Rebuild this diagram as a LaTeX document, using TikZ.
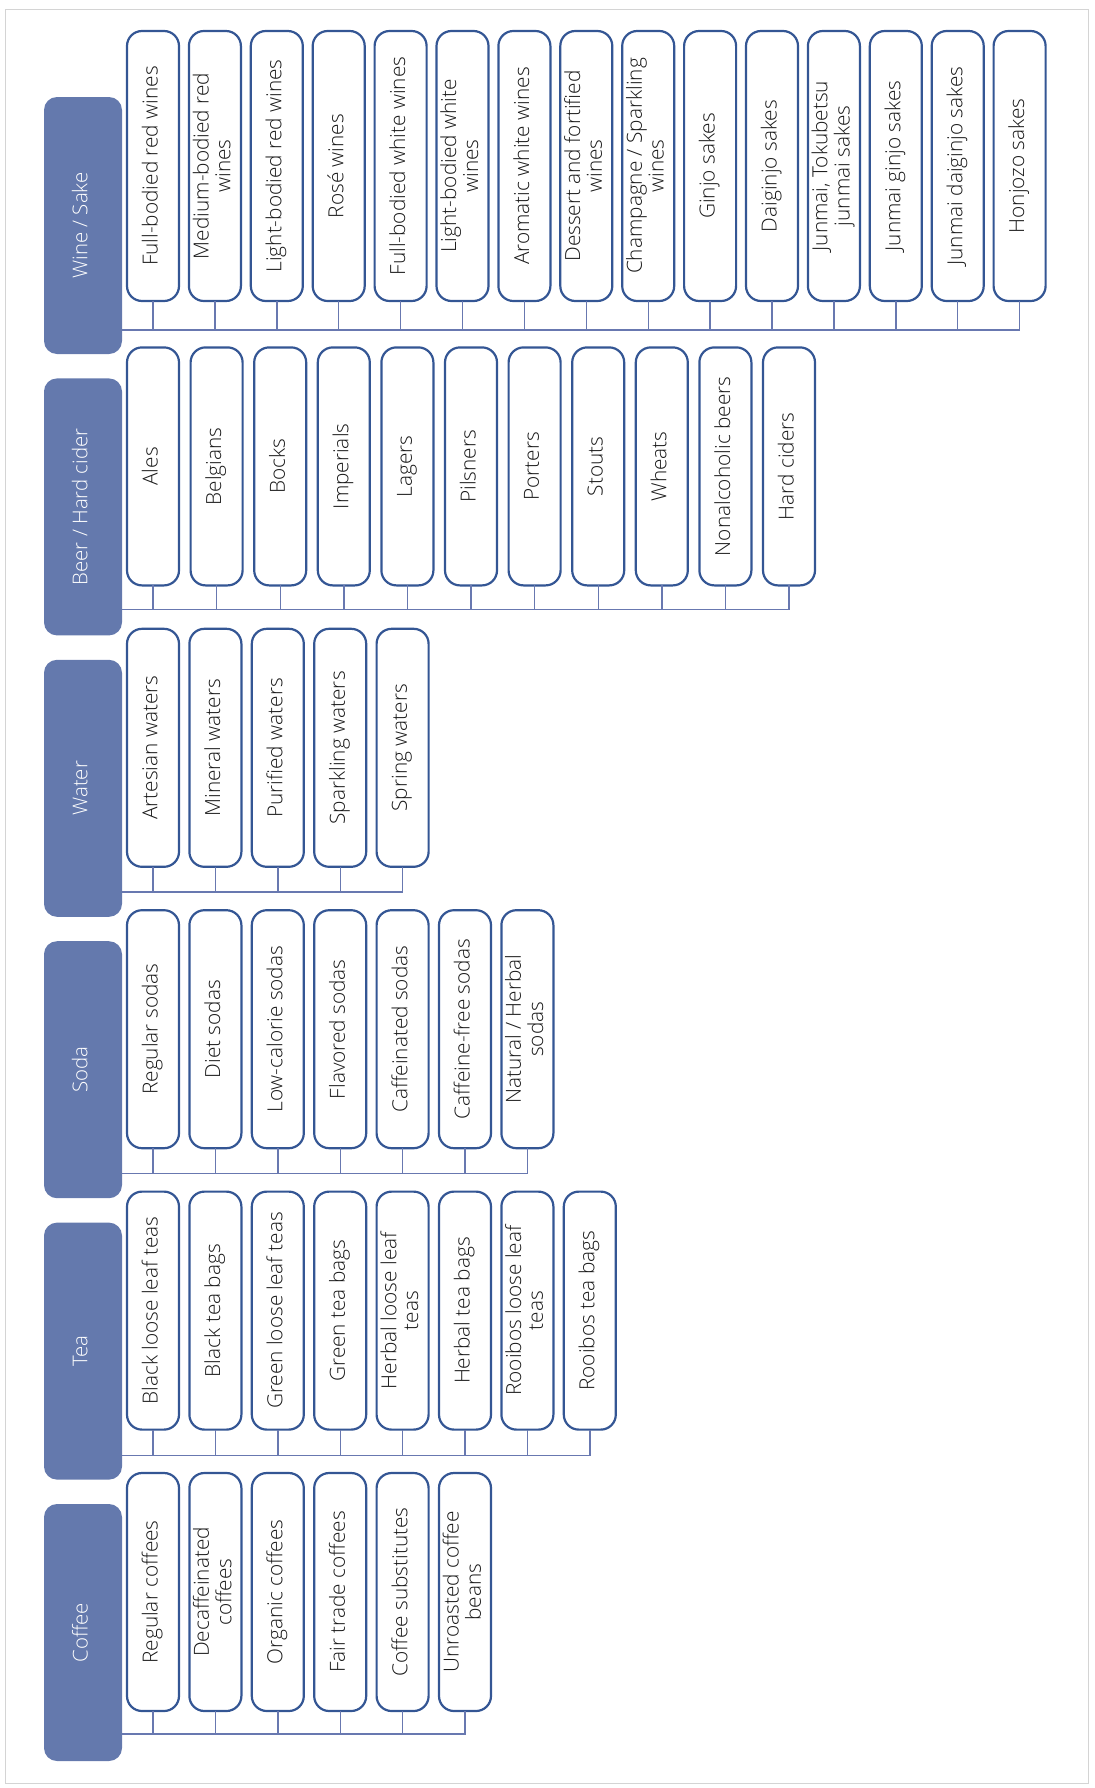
\documentclass[tikz,border=0pt]{standalone}
\usepackage{fontspec}
\setmainfont{Open Sans}[UprightFont={* Light}]
\usepackage{graphicx}
\usepackage{tikz}
\usetikzlibrary{positioning}
\definecolor{headfill}{RGB}{100,121,173}
\definecolor{boxline}{RGB}{52,86,148}
\definecolor{busblue}{RGB}{104,120,176}
\definecolor{framegray}{RGB}{212,212,212}
\newcommand{\vlabel}[1]{\rotatebox{90}{\begin{tabular}{@{}c@{}}#1\end{tabular}}}

\begin{document}
\begin{tikzpicture}[x=1pt,y=1pt,node distance=5.2pt,
groupbox/.style={fill=headfill,text=white,rounded corners=6.5pt,minimum width=39pt,minimum height=128.5pt,inner sep=0pt,outer sep=0pt,font=\fontsize{10.2}{11}\selectfont},
itembox/.style={draw=boxline,line width=1.1pt,rounded corners=7.5pt,fill=white,minimum width=26pt,minimum height=119pt,inner sep=0pt,outer sep=0pt,text=black!90,font=\fontsize{10.4}{10.9}\selectfont},
winebox/.style={itembox,minimum height=135pt},
busline/.style={draw=busblue,line width=0.7pt}]
\useasboundingbox (0,0) rectangle (547.5,-894);
\draw[framegray,line width=0.5pt] (2.5,-4.5) rectangle (544,-891.5);

% category headers
\node[groupbox,anchor=north west] (wine) at (22,-48.5) {\vlabel{Wine / Sake}};
\node[groupbox,below=12.2pt of wine] (beer) {\vlabel{Beer / Hard cider}};
\node[groupbox,below=12.2pt of beer] (water) {\vlabel{Water}};
\node[groupbox,below=12.2pt of water] (soda) {\vlabel{Soda}};
\node[groupbox,below=12.2pt of soda] (tea) {\vlabel{Tea}};
\node[groupbox,below=12.2pt of tea] (coffee) {\vlabel{Coffee}};

% wine / sake
\node[winebox,anchor=north west] (fullred) at ([xshift=2.5pt,yshift=33pt]wine.north east) {\vlabel{Full-bodied red wines}};
\node[winebox,right=4.95pt of fullred] (medred) {\vlabel{Medium-bodied red\\wines}};
\node[winebox,right=4.95pt of medred] (lightred) {\vlabel{Light-bodied red wines}};
\node[winebox,right=4.95pt of lightred] (rose) {\vlabel{Rosé wines}};
\node[winebox,right=4.95pt of rose] (fullwhite) {\vlabel{Full-bodied white wines}};
\node[winebox,right=4.95pt of fullwhite] (lightwhite) {\vlabel{Light-bodied white\\wines}};
\node[winebox,right=4.95pt of lightwhite] (aromatic) {\vlabel{Aromatic white wines}};
\node[winebox,right=4.95pt of aromatic] (dessert) {\vlabel{Dessert and fortified\\wines}};
\node[winebox,right=4.95pt of dessert] (champagne) {\vlabel{Champagne / Sparkling\\wines}};
\node[winebox,right=4.95pt of champagne] (ginjo) {\vlabel{Ginjo sakes}};
\node[winebox,right=4.95pt of ginjo] (daiginjo) {\vlabel{Daiginjo sakes}};
\node[winebox,right=4.95pt of daiginjo] (junmai) {\vlabel{Junmai, Tokubetsu\\junmai sakes}};
\node[winebox,right=4.95pt of junmai] (junginjo) {\vlabel{Junmai ginjo sakes}};
\node[winebox,right=4.95pt of junginjo] (jundaiginjo) {\vlabel{Junmai daiginjo sakes}};
\node[winebox,right=4.95pt of jundaiginjo] (honjozo) {\vlabel{Honjozo sakes}};

% beer / hard cider
\node[itembox,anchor=north west] (ales) at ([xshift=2.5pt,yshift=15.5pt]beer.north east) {\vlabel{Ales}};
\node[itembox,right=5.8pt of ales] (belgians) {\vlabel{Belgians}};
\node[itembox,right=5.8pt of belgians] (bocks) {\vlabel{Bocks}};
\node[itembox,right=5.8pt of bocks] (imperials) {\vlabel{Imperials}};
\node[itembox,right=5.8pt of imperials] (lagers) {\vlabel{Lagers}};
\node[itembox,right=5.8pt of lagers] (pilsners) {\vlabel{Pilsners}};
\node[itembox,right=5.8pt of pilsners] (porters) {\vlabel{Porters}};
\node[itembox,right=5.8pt of porters] (stouts) {\vlabel{Stouts}};
\node[itembox,right=5.8pt of stouts] (wheats) {\vlabel{Wheats}};
\node[itembox,right=5.8pt of wheats] (nonalc) {\vlabel{Nonalcoholic beers}};
\node[itembox,right=5.8pt of nonalc] (ciders) {\vlabel{Hard ciders}};

% water
\node[itembox,anchor=north west] (artesian) at ([xshift=2.5pt,yshift=15.5pt]water.north east) {\vlabel{Artesian waters}};
\node[itembox,right=of artesian] (mineral) {\vlabel{Mineral waters}};
\node[itembox,right=of mineral] (purified) {\vlabel{Purified waters}};
\node[itembox,right=of purified] (sparkling) {\vlabel{Sparkling waters}};
\node[itembox,right=of sparkling] (spring) {\vlabel{Spring waters}};

% soda
\node[itembox,anchor=north west] (regsoda) at ([xshift=2.5pt,yshift=15.5pt]soda.north east) {\vlabel{Regular sodas}};
\node[itembox,right=of regsoda] (diet) {\vlabel{Diet sodas}};
\node[itembox,right=of diet] (lowcal) {\vlabel{Low-calorie sodas}};
\node[itembox,right=of lowcal] (flavored) {\vlabel{Flavored sodas}};
\node[itembox,right=of flavored] (caffeinated) {\vlabel{Caffeinated sodas}};
\node[itembox,right=of caffeinated] (caffree) {\vlabel{Caffeine-free sodas}};
\node[itembox,right=of caffree] (natural) {\vlabel{Natural / Herbal\\sodas}};

% tea
\node[itembox,anchor=north west] (blackleaf) at ([xshift=2.5pt,yshift=15.5pt]tea.north east) {\vlabel{Black loose leaf teas}};
\node[itembox,right=of blackleaf] (blackbag) {\vlabel{Black tea bags}};
\node[itembox,right=of blackbag] (greenleaf) {\vlabel{Green loose leaf teas}};
\node[itembox,right=of greenleaf] (greenbag) {\vlabel{Green tea bags}};
\node[itembox,right=of greenbag] (herbleaf) {\vlabel{Herbal loose leaf\\teas}};
\node[itembox,right=of herbleaf] (herbbag) {\vlabel{Herbal tea bags}};
\node[itembox,right=of herbbag] (rooileaf) {\vlabel{Rooibos loose leaf\\teas}};
\node[itembox,right=of rooileaf] (rooibag) {\vlabel{Rooibos tea bags}};

% coffee
\node[itembox,anchor=north west] (regcoffee) at ([xshift=2.5pt,yshift=15.5pt]coffee.north east) {\vlabel{Regular coffees}};
\node[itembox,right=of regcoffee] (decaf) {\vlabel{Decaffeinated\\coffees}};
\node[itembox,right=of decaf] (organic) {\vlabel{Organic coffees}};
\node[itembox,right=of organic] (fairtrade) {\vlabel{Fair trade coffees}};
\node[itembox,right=of fairtrade] (substitutes) {\vlabel{Coffee substitutes}};
\node[itembox,right=of substitutes] (unroasted) {\vlabel{Unroasted coffee\\beans}};

% bus lines
\coordinate (winebus) at ([yshift=12pt]wine.south east);
\coordinate (beerbus) at ([yshift=13pt]beer.south east);
\coordinate (waterbus) at ([yshift=12.5pt]water.south east);
\coordinate (sodabus) at ([yshift=12.5pt]soda.south east);
\coordinate (teabus) at ([yshift=12pt]tea.south east);
\coordinate (coffeebus) at ([yshift=13.5pt]coffee.south east);
\draw[busline] (winebus) -| (fullred.south) (winebus) -| (medred.south) (winebus) -| (lightred.south)
  (winebus) -| (rose.south) (winebus) -| (fullwhite.south) (winebus) -| (lightwhite.south)
  (winebus) -| (aromatic.south) (winebus) -| (dessert.south) (winebus) -| (champagne.south)
  (winebus) -| (ginjo.south) (winebus) -| (daiginjo.south) (winebus) -| (junmai.south)
  (winebus) -| (junginjo.south) (winebus) -| (jundaiginjo.south) (winebus) -| (honjozo.south);
\draw[busline] (beerbus) -| (ales.south) (beerbus) -| (belgians.south) (beerbus) -| (bocks.south)
  (beerbus) -| (imperials.south) (beerbus) -| (lagers.south) (beerbus) -| (pilsners.south)
  (beerbus) -| (porters.south) (beerbus) -| (stouts.south) (beerbus) -| (wheats.south)
  (beerbus) -| (nonalc.south) (beerbus) -| (ciders.south);
\draw[busline] (waterbus) -| (artesian.south) (waterbus) -| (mineral.south) (waterbus) -| (purified.south)
  (waterbus) -| (sparkling.south) (waterbus) -| (spring.south);
\draw[busline] (sodabus) -| (regsoda.south) (sodabus) -| (diet.south) (sodabus) -| (lowcal.south)
  (sodabus) -| (flavored.south) (sodabus) -| (caffeinated.south) (sodabus) -| (caffree.south)
  (sodabus) -| (natural.south);
\draw[busline] (teabus) -| (blackleaf.south) (teabus) -| (blackbag.south) (teabus) -| (greenleaf.south)
  (teabus) -| (greenbag.south) (teabus) -| (herbleaf.south) (teabus) -| (herbbag.south)
  (teabus) -| (rooileaf.south) (teabus) -| (rooibag.south);
\draw[busline] (coffeebus) -| (regcoffee.south) (coffeebus) -| (decaf.south) (coffeebus) -| (organic.south)
  (coffeebus) -| (fairtrade.south) (coffeebus) -| (substitutes.south) (coffeebus) -| (unroasted.south);
\end{tikzpicture}
\end{document}
